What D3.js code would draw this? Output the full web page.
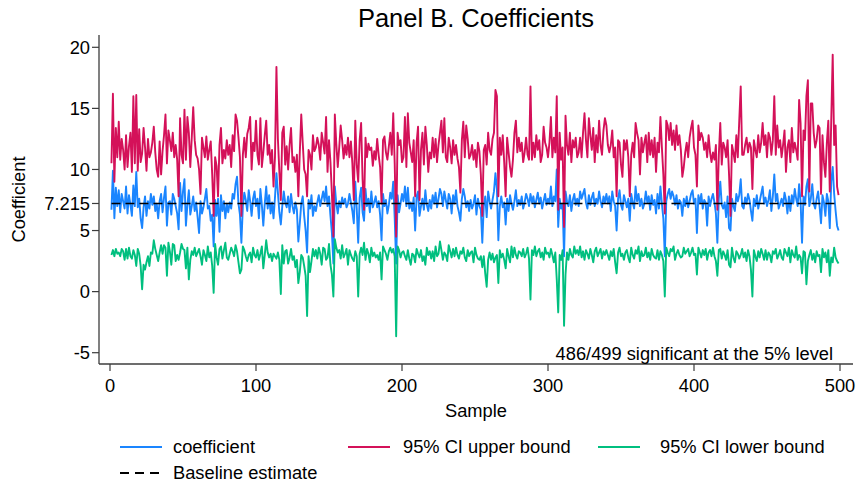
<!DOCTYPE html>
<html>
<head>
<meta charset="utf-8">
<script src="https://cdn.jsdelivr.net/npm/d3@7"></script>
<style>
  body { margin: 0; background: #fff; }
  svg { display: block; font-family: "Liberation Sans", Arial, sans-serif; }
</style>
</head>
<body>
<div id="chart"></div>
<script>
// coefficient estimate per sample (samples 1..499)
const coefficient = [
  6.7,9.9,6.0,8.5,7.0,8.3,6.5,8.0,7.4,6.8,8.6,6.4,7.9,7.1,6.2,8.7,7.0,9.8,6.9,7.6,
  6.0,5.2,6.9,7.8,6.2,7.4,6.8,8.0,7.1,7.8,6.6,7.2,6.0,7.4,8.0,6.5,7.7,8.6,5.4,7.3,
  7.4,6.3,8.0,7.6,7.0,6.4,5.1,8.9,6.6,8.2,9.2,5.4,7.1,8.3,6.3,7.0,7.8,6.6,7.3,6.1,
  4.8,7.4,6.4,6.9,7.6,8.4,6.8,7.0,5.8,6.3,3.7,7.5,6.2,7.6,4.9,7.9,6.6,7.4,6.0,7.2,
  6.5,7.3,6.8,8.0,7.6,8.8,9.4,7.2,6.3,4.0,7.0,8.1,7.5,6.6,8.3,7.4,6.2,7.6,8.2,7.0,
  7.6,6.0,8.4,7.1,5.4,7.2,8.6,6.8,7.9,6.4,7.3,6.0,7.7,9.7,8.1,6.5,5.5,7.0,8.2,7.3,
  6.9,7.8,6.5,8.0,7.0,6.4,7.3,6.7,4.1,5.6,7.2,7.8,6.2,5.0,3.2,7.5,6.8,7.9,6.2,7.0,
  6.6,7.3,7.9,7.0,7.6,8.2,7.4,8.6,7.0,7.8,6.2,4.8,2.3,8.6,7.2,6.4,7.4,6.9,7.7,7.2,
  7.6,6.9,7.2,8.0,7.3,6.6,5.6,9.0,6.8,4.0,7.7,8.5,6.5,5.8,8.4,7.0,7.6,6.5,8.2,6.9,
  7.3,7.8,6.9,7.4,6.3,4.2,8.0,7.0,7.5,6.4,7.1,8.1,7.6,9.0,6.0,2.3,7.9,6.5,7.2,8.0,
  7.4,8.6,7.0,8.5,6.8,7.3,6.6,7.7,5.0,7.8,8.2,6.2,7.0,7.6,6.7,8.3,7.1,6.6,7.5,6.8,
  7.9,7.2,8.1,6.9,7.6,8.4,8.0,7.0,8.2,7.5,6.8,8.0,7.6,6.4,7.9,7.2,8.3,7.0,6.5,5.8,
  7.6,8.4,7.8,6.9,7.4,6.6,7.5,6.8,7.2,7.9,6.3,7.6,7.0,6.7,4.0,7.0,7.8,6.1,8.2,7.4,
  6.8,7.5,8.2,9.7,8.4,4.2,7.0,7.8,6.9,7.3,5.5,7.6,6.6,7.9,7.2,6.7,7.4,8.3,7.0,7.5,
  7.1,7.8,6.8,7.3,8.0,7.6,7.0,8.0,7.3,7.8,6.9,7.5,8.1,7.2,7.7,6.8,7.4,8.0,7.1,7.6,
  7.2,8.6,7.0,7.8,7.4,10.0,5.3,7.6,6.8,7.2,2.9,8.2,7.4,7.0,7.9,6.6,7.5,8.0,7.1,7.6,
  7.0,8.2,7.6,8.0,8.4,7.3,6.8,7.9,7.1,7.7,8.1,7.0,7.6,7.2,8.2,7.4,6.9,7.8,7.3,8.0,
  7.2,7.8,6.6,8.2,7.4,7.0,5.0,7.6,8.3,7.1,6.7,7.9,7.4,6.9,7.6,5.8,8.0,7.3,6.8,8.6,
  7.4,8.0,7.0,7.6,6.8,7.2,8.2,7.3,7.8,6.7,7.9,7.1,7.5,6.4,8.0,6.8,8.6,7.2,6.0,2.9,
  7.4,8.0,8.4,7.6,8.2,7.8,7.1,7.9,6.8,7.5,7.3,6.2,7.6,7.0,7.8,6.9,7.4,8.0,8.3,7.2,
  7.6,4.8,7.9,7.2,8.0,6.8,7.5,7.3,5.4,7.8,7.0,7.6,8.0,7.3,6.4,4.0,7.6,9.0,7.1,6.8,
  7.3,6.1,7.8,5.2,5.0,7.6,7.0,6.6,8.0,7.4,7.9,9.2,7.0,6.8,7.7,7.2,8.0,7.5,6.6,5.8,
  7.6,7.0,7.9,6.8,7.4,8.0,8.6,7.2,7.7,7.0,7.5,8.3,6.6,7.8,9.6,7.4,8.0,6.8,7.2,7.6,
  7.0,8.1,7.5,6.4,7.8,6.6,7.9,7.2,8.4,7.6,7.0,8.8,7.4,4.0,7.8,7.1,8.6,9.2,7.0,7.6,
  8.8,7.2,6.8,7.6,8.2,7.0,5.6,7.9,7.3,6.2,8.0,7.4,5.2,9.0,10.2,8.0,6.6,5.4,5.0
];

const upperBound = [
  10.5,16.2,9.0,13.4,11.0,13.9,10.8,12.5,11.6,10.0,12.8,10.2,11.9,13.0,9.8,16.0,10.5,16.1,9.9,13.3,
  10.6,11.3,13.4,11.8,9.9,12.5,11.0,11.4,12.2,13.5,11.4,10.0,9.4,12.3,9.6,11.5,12.8,14.5,10.5,13.2,
  12.4,11.5,13.0,11.0,12.0,10.8,7.8,14.2,11.2,10.5,14.9,10.8,14.3,13.0,10.2,12.6,15.1,12.4,11.2,10.9,
  10.0,8.0,12.6,11.8,11.0,12.7,10.8,11.6,12.3,9.6,6.2,11.0,10.3,7.8,12.0,13.4,10.5,11.6,10.9,12.4,
  11.2,12.0,10.2,12.8,11.5,14.5,14.0,12.6,11.0,6.2,11.2,12.6,11.0,12.9,13.4,14.3,10.0,12.2,11.5,14.0,
  11.2,10.4,14.2,10.2,11.4,12.8,14.0,11.2,12.0,10.5,11.6,8.6,11.0,18.4,12.5,9.8,7.5,13.0,13.5,10.4,
  11.9,10.0,12.0,13.4,10.6,11.0,9.8,11.2,7.8,11.4,14.5,12.2,10.0,9.6,7.8,11.6,11.2,10.0,12.8,11.5,
  11.8,12.6,12.0,10.8,13.0,12.2,11.3,14.3,9.8,12.4,10.6,8.0,4.5,14.5,12.1,10.2,11.8,13.6,12.4,10.9,
  12.0,11.2,12.6,11.0,12.3,10.5,7.5,14.0,10.4,9.0,12.4,13.8,9.2,6.7,12.6,11.0,12.1,11.6,11.8,10.3,
  11.5,10.8,12.5,11.2,10.2,7.2,12.4,12.7,11.4,10.8,11.9,13.0,11.2,14.6,10.5,4.5,13.0,12.0,12.4,10.6,
  11.0,14.3,10.2,14.6,12.2,11.4,10.6,12.4,7.8,12.2,13.5,7.5,11.6,13.0,10.4,13.5,12.0,9.8,11.4,10.9,
  12.6,11.0,12.5,10.6,12.0,13.0,14.0,11.4,14.2,11.0,10.6,12.6,11.8,10.5,12.4,11.2,12.0,10.9,10.2,8.1,
  12.4,13.9,11.0,13.6,12.5,10.9,11.2,12.0,10.8,11.6,10.2,12.2,11.5,9.6,6.2,11.6,12.0,10.4,13.0,11.6,
  11.2,12.5,13.0,16.5,16.0,7.8,12.6,11.2,12.8,10.6,7.8,12.6,11.4,10.2,9.4,10.8,13.0,14.0,11.4,12.6,
  11.5,12.2,10.6,11.4,12.6,11.2,10.8,16.8,10.8,12.2,11.0,12.8,11.6,12.4,10.6,11.2,13.5,12.2,11.8,11.0,
  12.2,14.3,11.0,12.6,11.4,16.0,6.7,13.0,10.8,11.8,5.3,14.4,12.0,11.2,13.0,10.6,12.4,11.8,12.6,11.0,
  11.4,12.6,11.0,13.0,14.6,12.4,11.0,14.2,12.8,11.6,13.4,10.6,12.8,11.4,14.0,12.0,11.2,13.2,14.2,13.6,
  12.0,11.4,12.0,13.2,11.0,11.8,7.8,12.4,12.2,10.4,9.4,12.4,11.6,12.4,11.0,7.8,11.2,12.2,11.0,13.8,
  13.0,12.4,9.6,12.6,11.4,12.2,12.8,10.6,13.0,11.2,12.4,11.0,12.6,9.8,12.2,11.4,14.3,11.8,9.6,6.4,
  14.0,13.6,12.4,13.8,12.0,13.2,11.6,13.6,12.0,12.8,11.6,9.4,10.2,11.4,12.2,11.0,12.6,13.4,14.0,11.8,
  11.2,8.6,13.6,12.4,13.0,12.6,11.6,12.2,11.0,12.8,11.4,10.6,11.4,10.8,12.0,6.7,11.2,13.8,10.4,12.2,
  11.8,11.0,12.4,9.6,6.2,12.0,11.4,10.6,12.8,11.0,14.0,16.8,11.2,11.2,12.0,12.6,11.4,12.2,11.8,8.4,
  12.4,11.6,11.0,12.8,11.4,12.2,13.8,12.0,12.8,11.0,13.0,12.6,11.2,12.4,16.0,11.2,13.6,11.8,12.4,11.0,
  12.0,13.2,9.8,11.8,12.4,10.6,13.4,11.4,12.2,11.6,10.8,15.7,13.8,7.8,13.2,12.4,16.0,17.3,8.2,15.4,
  15.4,13.0,11.8,12.4,13.6,13.4,8.0,12.8,10.6,9.4,12.2,14.0,8.2,14.0,19.4,12.0,13.6,8.6,7.9
];

const lowerBound = [
  3.0,3.4,2.9,3.5,3.1,3.2,2.9,3.5,3.3,2.6,3.5,2.7,3.6,2.9,2.7,3.4,3.0,2.1,3.5,3.1,
  2.1,0.2,2.2,1.8,2.4,2.9,2.1,3.2,3.1,4.2,3.5,3.0,2.5,3.2,3.8,3.1,3.8,3.6,1.3,4.0,
  3.3,2.2,3.9,3.8,2.5,3.0,2.6,3.2,3.9,3.5,3.4,1.9,3.6,1.0,2.6,3.3,3.0,3.6,2.9,3.2,
  3.5,2.9,2.2,3.4,3.0,2.5,3.7,2.8,3.2,2.1,-0.1,3.9,2.8,2.2,3.5,3.7,2.7,3.4,4.0,2.8,
  2.6,3.1,3.6,3.3,2.9,3.8,3.3,2.4,1.5,1.8,3.7,3.4,2.9,2.5,3.0,3.2,2.4,3.6,3.0,2.8,
  3.4,2.6,3.1,3.7,1.9,3.0,4.2,3.2,2.8,3.1,2.5,3.1,2.9,2.7,3.2,2.6,-0.2,3.8,2.3,3.3,
  3.4,2.3,2.8,3.5,2.6,2.9,2.0,2.6,0.7,1.6,3.0,2.8,2.1,1.3,-2.0,2.9,1.6,2.5,3.5,2.9,
  3.4,2.7,3.6,3.1,2.2,3.6,3.5,2.6,2.8,3.9,2.2,1.4,-0.4,4.3,3.6,3.2,3.4,2.7,3.8,2.8,
  3.1,3.5,2.2,3.4,3.0,2.7,2.5,3.3,2.9,-0.4,3.1,3.6,3.0,4.0,2.6,3.5,3.1,2.4,3.6,2.9,
  3.2,2.8,3.0,2.6,3.2,1.0,3.7,3.4,3.1,2.6,3.3,3.6,3.2,3.5,2.9,-3.65,3.7,3.4,2.8,3.2,
  3.3,2.9,2.6,3.4,2.7,2.2,3.1,3.0,2.4,3.5,3.1,2.8,3.4,2.5,2.9,2.2,3.6,3.0,3.3,2.7,
  3.3,2.5,3.7,2.9,3.1,4.1,3.4,2.6,3.2,3.0,2.5,3.8,3.3,2.8,3.5,2.9,3.6,3.0,2.7,3.3,
  3.1,3.6,2.8,2.5,3.4,2.9,3.2,3.3,2.4,3.6,3.0,2.7,2.6,2.9,2.0,2.9,1.5,0.4,2.6,3.2,
  2.6,3.1,2.4,2.8,3.0,0.7,3.4,2.8,3.1,2.6,1.9,3.5,2.9,2.4,3.7,2.8,3.6,3.0,2.7,3.3,
  3.2,2.9,3.5,2.8,3.1,3.6,2.7,-0.65,3.4,3.0,3.7,2.9,3.3,3.5,2.8,3.2,2.6,3.6,3.1,3.2,
  2.8,3.5,3.0,2.4,3.2,1.0,-1.7,3.0,2.6,3.4,-2.8,1.4,3.2,2.6,3.5,3.0,2.8,3.7,3.1,3.4,
  3.0,3.7,2.8,3.3,2.6,3.4,3.1,2.7,3.5,3.0,2.4,3.3,3.6,2.9,3.2,3.5,2.7,3.3,3.0,3.4,
  3.0,2.6,3.3,2.9,3.5,2.4,1.5,3.2,3.6,2.9,3.1,2.6,3.2,3.4,2.8,2.4,3.6,3.0,2.7,3.4,
  3.1,3.7,2.5,3.3,2.9,3.0,3.6,2.8,3.2,2.6,3.5,3.0,2.8,2.7,3.4,2.6,3.3,3.0,2.5,-0.4,
  3.6,3.2,2.9,3.5,3.3,3.7,2.6,3.1,3.4,3.0,2.8,2.9,3.6,3.1,3.3,3.5,2.9,3.2,3.6,3.0,
  3.1,1.4,3.6,3.2,2.8,3.4,3.0,3.5,2.6,3.2,3.4,2.9,3.6,2.9,2.5,1.3,3.4,3.5,2.7,3.3,
  3.0,2.6,3.4,2.2,2.0,3.6,2.8,2.4,3.3,3.1,2.7,3.0,3.5,2.8,3.2,2.5,3.4,2.9,1.8,-0.4,
  3.4,2.9,2.5,3.3,2.8,3.5,3.1,2.6,3.4,2.6,3.2,3.0,2.4,3.3,3.1,3.5,2.7,3.0,3.4,2.8,
  2.6,3.5,3.2,2.9,3.6,2.4,3.4,3.0,2.8,3.7,2.6,3.0,2.8,1.5,3.3,3.2,0.6,2.5,3.0,3.4,
  2.6,3.1,2.4,3.3,2.9,3.0,1.6,3.5,2.8,3.2,2.4,3.4,1.3,2.8,2.4,3.6,2.8,2.5,2.3
];

const baseline = 7.215;
const xTicks = [0, 100, 200, 300, 400, 500];
const yTicks = [-5, 0, 5, 10, 15, 20, baseline];

const w = 857;
const h = 482;

const colors = { coef: '#1a85ff', upper: '#d41159', lower: '#00bf7f' };
const fontSize = '18.3px';

const svg = d3
  .select('#chart')
  .append('svg')
  .attr('width', w)
  .attr('height', h)
  .style('background-color', '#fff');

// plot region edges (axes lines)
const plotLeft = 99;
const plotRight = 853;
const plotTop = 35;
const plotBottom = 364;

const x = d3.scaleLinear().domain([0, 500]).range([110, 840]);
const y = d3.scaleLinear().domain([-5, 20]).range([352.7, 47.3]);

const axisColor = '#3c3c3c';

// y axis
svg.append('line')
  .attr('x1', plotLeft).attr('x2', plotLeft)
  .attr('y1', plotTop).attr('y2', plotBottom)
  .attr('stroke', axisColor).attr('stroke-width', 1.3);

const yAxis = svg.append('g');
yAxis.selectAll('line')
  .data(yTicks)
  .enter()
  .append('line')
  .attr('x1', plotLeft - 7).attr('x2', plotLeft)
  .attr('y1', d => y(d)).attr('y2', d => y(d))
  .attr('stroke', axisColor).attr('stroke-width', 1.2);
yAxis.selectAll('text')
  .data(yTicks)
  .enter()
  .append('text')
  .attr('x', plotLeft - 9)
  .attr('y', d => y(d))
  .attr('dy', '0.35em')
  .attr('text-anchor', 'end')
  .style('font-size', fontSize)
  .attr('fill', '#000')
  .text(d => String(d));

// x axis
svg.append('line')
  .attr('x1', plotLeft).attr('x2', plotRight)
  .attr('y1', plotBottom).attr('y2', plotBottom)
  .attr('stroke', axisColor).attr('stroke-width', 1.3);

const xAxis = svg.append('g');
xAxis.selectAll('line')
  .data(xTicks)
  .enter()
  .append('line')
  .attr('x1', d => x(d)).attr('x2', d => x(d))
  .attr('y1', plotBottom).attr('y2', plotBottom + 7)
  .attr('stroke', axisColor).attr('stroke-width', 1.2);
xAxis.selectAll('text')
  .data(xTicks)
  .enter()
  .append('text')
  .attr('x', d => x(d))
  .attr('y', 392)
  .attr('text-anchor', 'middle')
  .style('font-size', fontSize)
  .text(d => d);

// axis titles and title
svg.append('text')
  .attr('x', (plotLeft + plotRight) / 2)
  .attr('y', 417)
  .attr('text-anchor', 'middle')
  .style('font-size', fontSize)
  .text('Sample');

svg.append('text')
  .attr('transform', `translate(19, ${(plotTop + plotBottom) / 2}) rotate(-90)`)
  .attr('text-anchor', 'middle')
  .attr('dy', '0.35em')
  .style('font-size', fontSize)
  .text('Coefficient');

svg.append('text')
  .attr('x', (plotLeft + plotRight) / 2)
  .attr('y', 27)
  .attr('text-anchor', 'middle')
  .style('font-size', '25.5px')
  .text('Panel B. Coefficients');

// series
const line = d3.line()
  .x((d, i) => x(i + 1))
  .y(d => y(d));

const series = [
  { key: 'coef', values: coefficient },
  { key: 'upper', values: upperBound },
  { key: 'lower', values: lowerBound }
];

svg.selectAll('path.series')
  .data(series)
  .enter()
  .append('path')
  .attr('class', 'series')
  .attr('d', d => line(d.values))
  .attr('fill', 'none')
  .attr('stroke', d => colors[d.key])
  .attr('stroke-width', 1.9)
  .attr('stroke-linejoin', 'round');

// baseline estimate
svg.append('line')
  .attr('x1', x(1)).attr('x2', x(coefficient.length))
  .attr('y1', y(baseline)).attr('y2', y(baseline))
  .attr('stroke', '#000')
  .attr('stroke-width', 1.7)
  .attr('stroke-dasharray', '9,5');

// note
svg.append('text')
  .attr('x', 833)
  .attr('y', 360)
  .attr('text-anchor', 'end')
  .style('font-size', fontSize)
  .text('486/499 significant at the 5% level');

// legend
const legendItems = [
  { label: 'coefficient', color: colors.coef, x0: 120, tx: 173, row: 0 },
  { label: '95% CI upper bound', color: colors.upper, x0: 348, tx: 403, row: 0 },
  { label: '95% CI lower bound', color: colors.lower, x0: 598, tx: 660, row: 0 },
  { label: 'Baseline estimate', color: '#000', x0: 120, tx: 173, row: 1, dash: '9,6' }
];

const legend = svg.append('g').attr('id', 'legend');
legend.selectAll('line')
  .data(legendItems)
  .enter()
  .append('line')
  .attr('x1', d => d.x0).attr('x2', d => d.x0 + 42)
  .attr('y1', d => 447 + d.row * 26).attr('y2', d => 447 + d.row * 26)
  .attr('stroke', d => d.color)
  .attr('stroke-width', 1.9)
  .attr('stroke-dasharray', d => d.dash || null);
legend.selectAll('text')
  .data(legendItems)
  .enter()
  .append('text')
  .attr('x', d => d.tx)
  .attr('y', d => 447 + d.row * 26)
  .attr('dy', '0.35em')
  .style('font-size', fontSize)
  .text(d => d.label);
</script>
</body>
</html>
